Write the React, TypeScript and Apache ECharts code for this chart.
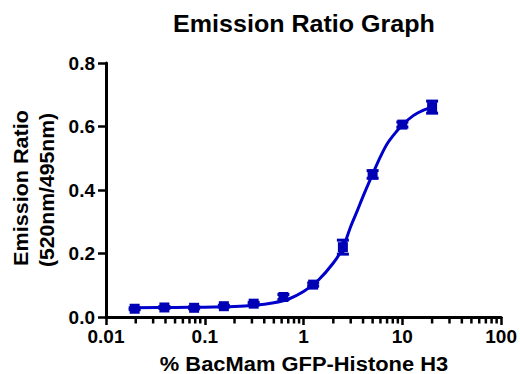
import React, { useEffect, useRef } from "react";
import * as echarts from "echarts";

const xValues = [0.0195, 0.039, 0.078, 0.156, 0.3125, 0.625, 1.25, 2.5, 5, 10, 20];
const yValues = [0.026, 0.030, 0.029, 0.034, 0.042, 0.063, 0.102, 0.220, 0.449, 0.606, 0.661];
const yErrors = [0.003, 0.003, 0.003, 0.003, 0.004, 0.008, 0.005, 0.022, 0.012, 0.008, 0.019];

const curveX = [0.0195, 0.05, 0.1, 0.2, 0.3, 0.5, 0.7, 1.0, 1.4, 2.0, 2.5, 3.0, 3.5, 4.0, 5.0, 6.0, 7.0, 8.5, 10, 13, 16, 20];
const curveY = [0.029, 0.030, 0.031, 0.033, 0.036, 0.045, 0.056, 0.08, 0.115, 0.17, 0.218, 0.285, 0.335, 0.38, 0.45, 0.505, 0.545, 0.58, 0.605, 0.635, 0.65, 0.662];

const minorTicks = [
  0.02, 0.03, 0.04, 0.05, 0.06, 0.07, 0.08, 0.09,
  0.2, 0.3, 0.4, 0.5, 0.6, 0.7, 0.8, 0.9,
  2, 3, 4, 5, 6, 7, 8, 9,
  20, 30, 40, 50, 60, 70, 80, 90,
];

const titleText = "Emission Ratio Graph";
const xName = "% BacMam GFP-Histone H3";
const yName1 = "Emission Ratio";
const yName2 = "(520nm/495nm)";

const FONT = '"Liberation Sans", Arial, sans-serif';
const BLUE = "#0000cc";
const MARK = "#0000b4";

function textEl(text: string, x: number, y: number, size: number, sx: number, rot = 0) {
  return {
    type: "text",
    x,
    y,
    rotation: rot,
    scaleX: sx,
    silent: true,
    style: {
      text,
      font: `bold ${size}px ${FONT}`,
      fill: "#000",
      align: "center",
      verticalAlign: "middle",
      textAlign: "center",
      textVerticalAlign: "middle",
    },
  };
}

export default function App() {
  const ref = useRef<HTMLDivElement>(null);
  useEffect(() => {
    if (!ref.current) return;
    const chart = echarts.init(ref.current, null, { renderer: "svg" });
    chart.setOption({
      animation: false,
      backgroundColor: "#fff",
      grid: { left: 106, top: 63, width: 398, height: 254, containLabel: false },
      xAxis: {
        type: "log",
        logBase: 10,
        min: 0.01,
        max: 100,
        interval: 1,
        axisLine: { show: true, lineStyle: { color: "#000", width: 3 } },
        axisTick: { show: true, inside: false, length: 8, lineStyle: { color: "#000", width: 2.5 } },
        splitLine: { show: false },
        axisLabel: {
          margin: 10,
          color: "#000",
          fontFamily: FONT,
          fontWeight: "bold",
          fontSize: 19,
          formatter: (v: number) => String(Number(v.toPrecision(3))),
        },
      },
      yAxis: {
        type: "value",
        min: 0,
        max: 0.8,
        interval: 0.2,
        axisLine: { show: true, lineStyle: { color: "#000", width: 3 } },
        axisTick: { show: true, inside: false, length: 8, lineStyle: { color: "#000", width: 2.5 } },
        splitLine: { show: false },
        axisLabel: {
          margin: 11,
          color: "#000",
          fontFamily: FONT,
          fontWeight: "bold",
          fontSize: 19,
          formatter: (v: number) => v.toFixed(1),
        },
      },
      graphic: [
        textEl(titleText, 304, 24, 23, 1.09),
        textEl(xName, 304, 364, 20, 1.095),
        textEl(yName1, 21, 188, 20, 1.08, Math.PI / 2),
        textEl(yName2, 47, 190, 20, 1.06, Math.PI / 2),
      ],
      series: [
        {
          type: "custom",
          name: "minorTicks",
          silent: true,
          clip: false,
          z: 1,
          data: minorTicks.map((v) => [v, 0]),
          renderItem: (params: any, api: any) => {
            const p = api.coord([api.value(0), 0]);
            return {
              type: "line",
              shape: { x1: p[0], y1: p[1], x2: p[0], y2: p[1] + 6.5 },
              style: { stroke: "#000", lineWidth: 2.5 },
            };
          },
        },
        {
          type: "custom",
          name: "errors",
          silent: true,
          z: 2,
          data: xValues.map((x, i) => [x, yValues[i] - yErrors[i], yValues[i] + yErrors[i]]),
          renderItem: (params: any, api: any) => {
            const lo = api.coord([api.value(0), api.value(1)]);
            const hi = api.coord([api.value(0), api.value(2)]);
            const w = 6;
            const st = { stroke: MARK, lineWidth: 3 };
            return {
              type: "group",
              children: [
                { type: "line", shape: { x1: lo[0], y1: lo[1], x2: hi[0], y2: hi[1] }, style: st },
                { type: "line", shape: { x1: lo[0] - w, y1: lo[1], x2: lo[0] + w, y2: lo[1] }, style: st },
                { type: "line", shape: { x1: hi[0] - w, y1: hi[1], x2: hi[0] + w, y2: hi[1] }, style: st },
              ],
            };
          },
        },
        {
          type: "line",
          name: "fit",
          silent: true,
          z: 3,
          smooth: 0.3,
          showSymbol: false,
          data: curveX.map((x, i) => [x, curveY[i]]),
          lineStyle: { color: BLUE, width: 3 },
        },
        {
          type: "scatter",
          name: "data",
          silent: true,
          z: 4,
          symbol: "rect",
          symbolSize: 10,
          data: xValues.map((x, i) => [x, yValues[i]]),
          itemStyle: { color: MARK, opacity: 1 },
        },
      ],
    });
    return () => chart.dispose();
  }, []);
  return (
    <div
      ref={ref}
      style={{ position: "absolute", left: 0, top: 0, width: 520, height: 374 }}
    />
  );
}
